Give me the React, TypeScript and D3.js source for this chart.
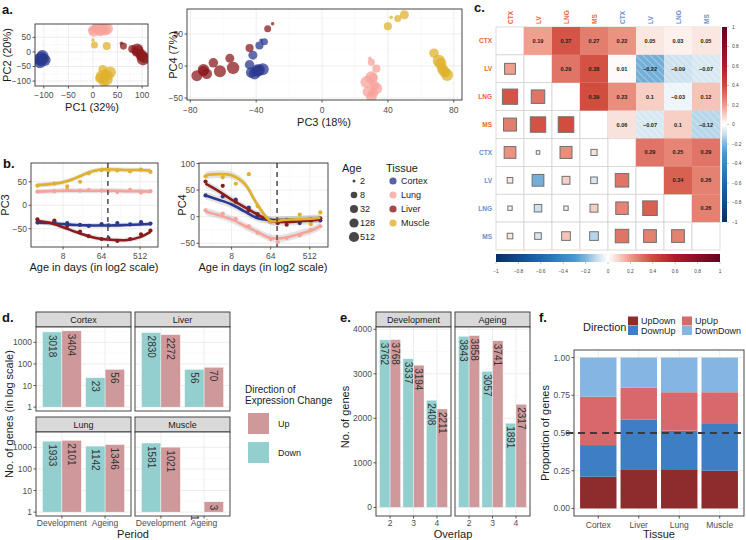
import React from "react";
import * as d3 from "d3";

const FONT = "'Liberation Sans', Arial, Helvetica, sans-serif";
const TICK_COL = "#4D4D4D";
const BORDER = "#333333";
const GRID = "#EBEBEB";
const GRID_MINOR = "#F4F4F4";

// ---------------- panels a / b data ----------------
const tissueNames = ["Cortex", "Lung", "Liver", "Muscle"];
const tissueColors = ["#2B3990", "#F7A39C", "#8C1B1D", "#DFB12D"];
const sampleAges = [2, 5, 10, 20, 32, 64, 93, 150, 300, 540, 900];

const cortexPC1 = [-108, -104, -110, -102, -106, -100, -112, -105, -98, -108, -103];
const cortexPC2 = [-22, -28, -30, -20, -33, -25, -25, -18, -28, -35, -15];
const cortexPC3 = [-37, -35, -38, -42, -44, -40, -43, -38, -41, -36, -39];
const cortexPC4 = [40, 38, 32, 17, 2, -8, -10, -6, -12, -5, -7];

const lungPC1 = [-5, 0, 5, 10, 15, 20, 25, 8, 18, 2, 28];
const lungPC2 = [78, 72, 80, 75, 70, 85, 75, 82, 77, 73, 80];
const lungPC3 = [29, 30, 33, 31, 32, 31, 30, 28, 33, 27, 30];
const lungPC4 = [12, 6, -4, -18, -30, -42, -48, -40, -35, -25, -18];

const liverPC1 = [58, 62, 80, 88, 95, 100, 92, 105, 98, 90, 102];
const liverPC2 = [30, 20, 10, 0, -5, -15, 5, -20, -10, 8, -25];
const liverPC3 = [-30, -33, -44, -56, -66, -72, -70, -76, -72, -62, -54];
const liverPC4 = [66, 58, 28, 12, 5, -8, -12, -15, -6, -8, -3];

const musclePC1 = [0, 3, 28, 20, 25, 15, 30, 22, 35, 28, 18];
const musclePC2 = [41, 24, 20, -60, -75, -90, -80, -100, -70, -95, -85];
const musclePC3 = [42, 46, 40, 50, 68, 75, 73, 74, 72, 76, 71];
const musclePC4 = [76, 74, 62, 80, 20, -10, -4, -8, 4, -14, 8];

const fitAges = [2, 4, 8, 16, 32, 64, 128, 256, 512, 900];
const cortexFit3 = [-37, -38, -40, -42, -43, -43, -43, -42, -41, -40];
const lungFit3 = [29, 30, 31, 31, 31, 31, 31, 30, 30, 29];
const liverFit3 = [-33, -38, -47, -57, -66, -72, -74, -74, -68, -57];
const muscleFit3 = [43, 45, 49, 58, 70, 76, 76, 75, 75, 74];
const cortexFit4 = [40, 32, 23, 10, -3, -6, -6, -6, -5, -5];
const lungFit4 = [10, 3, -5, -17, -29, -40, -40, -34, -27, -18];
const liverFit4 = [62, 48, 32, 18, 4, -8, -10, -9, -7, -5];
const muscleFit4 = [78, 80, 78, 62, 22, -8, -6, -5, -4, -2];

const ageLegend = [2, 8, 32, 128, 512];
const cutoffAge = 90;

// ---------------- panel c data ----------------
const corrLabels = ["CTX", "LV", "LNG", "MS", "CTX", "LV", "LNG", "MS"];
const corrMatrix = [
  [1, 0.19, 0.37, 0.27, 0.22, 0.05, 0.03, 0.05],
  [0.19, 1, 0.29, 0.38, 0.01, -0.22, -0.09, -0.07],
  [0.37, 0.29, 1, 0.39, 0.23, 0.1, -0.03, 0.12],
  [0.27, 0.38, 0.39, 1, 0.06, -0.07, 0.1, -0.12],
  [0.22, 0.01, 0.23, 0.06, 1, 0.29, 0.25, 0.29],
  [0.05, -0.22, 0.1, -0.07, 0.29, 1, 0.34, 0.26],
  [0.03, -0.09, -0.03, 0.1, 0.25, 0.34, 1, 0.26],
  [0.05, -0.07, 0.12, -0.12, 0.29, 0.26, 0.26, 1],
];
const colorbarTicks = [-1, -0.8, -0.6, -0.4, -0.2, 0, 0.2, 0.4, 0.6, 0.8, 1];

// ---------------- panel d data ----------------
const dTissues = ["Cortex", "Liver", "Lung", "Muscle"];
const dPeriods = ["Development", "Ageing"];
const dDownDev = [3018, 2830, 1933, 1581];
const dUpDev = [3404, 2272, 2101, 1021];
const dDownAge = [23, 56, 1142, 1];
const dUpAge = [56, 70, 1346, 3];

// ---------------- panel e data ----------------
const ePeriods = ["Development", "Ageing"];
const eOverlap = ["2", "3", "4"];
const eDownDev = [3762, 3337, 2408];
const eUpDev = [3768, 3194, 2211];
const eDownAge = [3843, 3057, 1891];
const eUpAge = [3858, 3741, 2317];

// ---------------- panel f data ----------------
const fTissues = ["Cortex", "Liver", "Lung", "Muscle"];
const fDirections = ["UpDown", "DownUp", "UpUp", "DownDown"];
const fUpDown = [0.21, 0.255, 0.26, 0.25];
const fDownUp = [0.21, 0.335, 0.255, 0.315];
const fUpUp = [0.32, 0.21, 0.255, 0.205];
const fDownDown = [0.26, 0.2, 0.23, 0.23];
const fColors = ["#8E2B2D", "#3E7EC5", "#D8686B", "#84B5E3"];

const UP_COL = "#CF999B";
const DOWN_COL = "#94CFCF";

const minus = (s: string) => s.replace("-", "\u2212");

interface AxOpts {
  xs: any;
  ys: any;
  xTicks: number[];
  yTicks: number[];
  xMinor?: number[];
  yMinor?: number[];
  xLabels?: string[] | null;
  yLabels?: string[] | null;
  xLabOff?: number;
  yLabOff?: number;
  fs?: number;
}

function Grid(o: AxOpts) {
  const [x0, x1] = o.xs.range();
  const [yb, yt] = o.ys.range();
  return (
    <g>
      <rect x={x0} y={yt} width={x1 - x0} height={yb - yt} fill="#fff" />
      {(o.xMinor || []).map((v, i) => (
        <line key={"xm" + i} x1={o.xs(v)} x2={o.xs(v)} y1={yt} y2={yb} stroke={GRID_MINOR} strokeWidth={0.5} />
      ))}
      {(o.yMinor || []).map((v, i) => (
        <line key={"ym" + i} x1={x0} x2={x1} y1={o.ys(v)} y2={o.ys(v)} stroke={GRID_MINOR} strokeWidth={0.5} />
      ))}
      {o.xTicks.map((v, i) => (
        <line key={"xg" + i} x1={o.xs(v)} x2={o.xs(v)} y1={yt} y2={yb} stroke={GRID} strokeWidth={0.9} />
      ))}
      {o.yTicks.map((v, i) => (
        <line key={"yg" + i} x1={x0} x2={x1} y1={o.ys(v)} y2={o.ys(v)} stroke={GRID} strokeWidth={0.9} />
      ))}
    </g>
  );
}

function Frame(o: AxOpts) {
  const [x0, x1] = o.xs.range();
  const [yb, yt] = o.ys.range();
  const fs = o.fs || 8.5;
  return (
    <g>
      <rect x={x0} y={yt} width={x1 - x0} height={yb - yt} fill="none" stroke={BORDER} strokeWidth={0.9} />
      {o.xLabels &&
        o.xTicks.map((v, i) => (
          <g key={"xt" + i}>
            <line x1={o.xs(v)} x2={o.xs(v)} y1={yb} y2={yb + 2.5} stroke={BORDER} strokeWidth={0.8} />
            <text x={o.xs(v)} y={yb + (o.xLabOff || 9)} fontSize={fs} fill={TICK_COL} textAnchor="middle" dominantBaseline="central">
              {o.xLabels![i]}
            </text>
          </g>
        ))}
      {o.yLabels &&
        o.yTicks.map((v, i) => (
          <g key={"yt" + i}>
            <line x1={x0 - 2.5} x2={x0} y1={o.ys(v)} y2={o.ys(v)} stroke={BORDER} strokeWidth={0.8} />
            <text x={x0 - (o.yLabOff || 4)} y={o.ys(v)} fontSize={fs} fill={TICK_COL} textAnchor="end" dominantBaseline="central">
              {o.yLabels![i]}
            </text>
          </g>
        ))}
    </g>
  );
}

function Title({ x, y, text, rot = false, size = 11 }: { x: number; y: number; text: string; rot?: boolean; size?: number }) {
  return (
    <text
      x={x}
      y={y}
      fontSize={size}
      fill="#1A1A1A"
      textAnchor="middle"
      dominantBaseline="central"
      transform={rot ? `rotate(-90, ${x}, ${y})` : undefined}
    >
      {text}
    </text>
  );
}

function PanelLabel({ x, y, t }: { x: number; y: number; t: string }) {
  return (
    <text x={x} y={y} fontSize={13} fontWeight="bold" fill="#111">
      {t}
    </text>
  );
}

export default function App() {
  const pcs1 = [cortexPC1, lungPC1, liverPC1, musclePC1];
  const pcs2 = [cortexPC2, lungPC2, liverPC2, musclePC2];
  const pcs3 = [cortexPC3, lungPC3, liverPC3, musclePC3];
  const pcs4 = [cortexPC4, lungPC4, liverPC4, musclePC4];
  const fits3 = [cortexFit3, lungFit3, liverFit3, muscleFit3];
  const fits4 = [cortexFit4, lungFit4, liverFit4, muscleFit4];

  const samples = tissueNames.flatMap((t, ti) =>
    sampleAges.map((age, k) => ({
      ti,
      age,
      pc1: pcs1[ti][k],
      pc2: pcs2[ti][k],
      pc3: pcs3[ti][k],
      pc4: pcs4[ti][k],
    }))
  );
  const rA = d3.scalePow().exponent(0.5).domain([0, 8.8]).range([1.8, 6.2]);
  const rAge = (a: number) => rA(Math.max(0, Math.log2(a) - 1));
  const rLeg = d3.scalePow().exponent(0.5).domain([0, 8]).range([1.5, 5.1]);

  // ---------- a ----------
  const xA1 = d3.scaleLinear().domain([-118, 112]).range([35, 148]);
  const yA1 = d3.scaleLinear().domain([-117, 96]).range([86, 24]);
  const xA2 = d3.scaleLinear().domain([-82, 85]).range([187, 462]);
  const yA2 = d3.scaleLinear().domain([-53, 89]).range([100, 9]);
  const a1: AxOpts = {
    xs: xA1, ys: yA1,
    xTicks: [-100, -50, 0, 50, 100], yTicks: [-100, -50, 0, 50],
    xMinor: [-75, -25, 25, 75], yMinor: [-75, -25, 25, 75],
    xLabels: ["-100", "-50", "0", "50", "100"].map(minus),
    yLabels: ["-100", "-50", "0", "50"].map(minus),
  };
  const a2: AxOpts = {
    xs: xA2, ys: yA2,
    xTicks: [-80, -40, 0, 40, 80], yTicks: [-50, 0, 50],
    xMinor: [-60, -20, 20, 60], yMinor: [-25, 25, 75],
    xLabels: ["-80", "-40", "0", "40", "80"].map(minus),
    yLabels: ["-50", "0", "50"].map(minus),
    xLabOff: 10,
  };

  // ---------- b ----------
  const logDom = [Math.pow(2, 0.5), Math.pow(2, 10.4)];
  const xB1 = d3.scaleLog().base(2).domain(logDom).range([31, 158]);
  const yB1 = d3.scaleLinear().domain([-89, 90]).range([247, 163]);
  const xB2 = d3.scaleLog().base(2).domain(logDom).range([199, 328]);
  const yB2 = d3.scaleLinear().domain([-57, 101]).range([247, 163]);
  const xMinB = [Math.pow(2, 1.5), Math.pow(2, 4.5), Math.pow(2, 7.5)];
  const b1: AxOpts = {
    xs: xB1, ys: yB1, xTicks: [8, 64, 512], yTicks: [-50, 0, 50],
    xMinor: xMinB, yMinor: [-75, -25, 25, 75],
    xLabels: ["8", "64", "512"], yLabels: ["-50", "0", "50"].map(minus),
  };
  const b2: AxOpts = {
    xs: xB2, ys: yB2, xTicks: [8, 64, 512], yTicks: [-50, 0, 50, 100],
    xMinor: xMinB, yMinor: [-25, 25, 75],
    xLabels: ["8", "64", "512"], yLabels: ["-50", "0", "50", "100"].map(minus),
  };
  const bPanels = [
    { o: b1, xs: xB1, ys: yB1, fits: fits3, pcs: pcs3, band: 5 },
    { o: b2, xs: xB2, ys: yB2, fits: fits4, pcs: pcs4, band: 7 },
  ];

  // ---------- c ----------
  const cx0 = 496, cy0 = 27, cw = 28, ch = (250 - 27) / 8;
  const corrColor = d3
    .scaleLinear<string>()
    .domain([-1, -0.6, -0.3, -0.2, -0.1, 0, 0.1, 0.2, 0.3, 0.4, 0.6, 1])
    .range(["#053061", "#2166AC", "#4A97C8", "#7DB5DA", "#C7DEED", "#FFFFFF", "#F7CFC5", "#EE9A88", "#DE7062", "#D04A3B", "#B2182B", "#67001F"]);
  const labColors = ["#EC6331", "#EC6331", "#EC6331", "#EC6331", "#6E8BD0", "#6E8BD0", "#6E8BD0", "#6E8BD0"];
  const cbV = d3.scaleLinear().domain([1, -1]).range([27, 222]);
  const cbH = d3.scaleLinear().domain([-1, 1]).range([496, 720]);
  const gradStops = d3.range(0, 1.0001, 0.05);

  // ---------- d ----------
  const dPanelX = [36, 135];
  const dPanelY = [327, 432];
  const dW = 95, dH = 84;

  // ---------- e ----------
  const yE = d3.scaleLinear().domain([-193, 4051]).range([516, 327]);
  const ePanelX = [376, 455];
  const eW = 75;
  const eVals = [
    [eDownDev, eUpDev],
    [eDownAge, eUpAge],
  ];

  // ---------- f ----------
  const xF = d3.scaleLinear().domain([0.4, 4.6]).range([574, 744]);
  const yF = d3.scaleLinear().domain([-0.05, 1.05]).range([516, 350]);
  const fRows = fTissues.map((t, i) => ({
    t,
    i,
    UpDown: fUpDown[i],
    DownUp: fDownUp[i],
    UpUp: fUpUp[i],
    DownDown: fDownDown[i],
  }));
  const fStack = d3.stack<any>().keys(fDirections)(fRows);
  const fOpts: AxOpts = {
    xs: xF, ys: yF, xTicks: [1, 2, 3, 4], yTicks: [0, 0.25, 0.5, 0.75, 1],
    yMinor: [0.125, 0.375, 0.625, 0.875],
    xLabels: fTissues, yLabels: ["0.00", "0.25", "0.50", "0.75", "1.00"],
  };

  const barLabel = (x: number, y: number, txt: string, key: string) => (
    <text key={key} x={x} y={y} fontSize={10} fill="#333" textAnchor="start" dominantBaseline="central" transform={`rotate(90, ${x}, ${y})`}>
      {txt}
    </text>
  );

  return (
    <svg width={746} height={540} style={{ position: "absolute", left: 0, top: 0, fontFamily: FONT }}>
      <defs>
        <pattern id="hatch" width="5" height="5" patternUnits="userSpaceOnUse" patternTransform="rotate(-45)">
          <line x1="0" y1="0" x2="0" y2="5" stroke="#fff" strokeWidth="0.9" strokeOpacity="0.8" />
        </pattern>
        <linearGradient id="cbv" x1="0" y1="0" x2="0" y2="1">
          {gradStops.map((t, i) => (
            <stop key={i} offset={t} stopColor={corrColor(1 - 2 * t)} />
          ))}
        </linearGradient>
        <linearGradient id="cbh" x1="0" y1="0" x2="1" y2="0">
          {gradStops.map((t, i) => (
            <stop key={i} offset={t} stopColor={corrColor(-1 + 2 * t)} />
          ))}
        </linearGradient>
        <clipPath id="clipB1"><rect x={31} y={163} width={127} height={84} /></clipPath>
        <clipPath id="clipB2"><rect x={199} y={163} width={129} height={84} /></clipPath>
        <clipPath id="clipA1"><rect x={35} y={24} width={113} height={62} /></clipPath>
        <clipPath id="clipA2"><rect x={187} y={9} width={275} height={91} /></clipPath>
      </defs>
      <rect width={746} height={540} fill="#fff" />

      {/* ================= a ================= */}
      <PanelLabel x={2} y={14} t="a." />
      <Grid {...a1} />
      <g clipPath="url(#clipA1)">
        {samples.map((s, i) => (
          <circle key={"a1" + i} cx={xA1(s.pc1)} cy={yA1(s.pc2)} r={rAge(s.age)} fill={tissueColors[s.ti]} fillOpacity={0.75} />
        ))}
      </g>
      <Frame {...a1} />
      <Title x={92} y={107} text="PC1 (32%)" />
      <Title x={7} y={55} text="PC2 (20%)" rot />

      <Grid {...a2} />
      <g clipPath="url(#clipA2)">
        {samples.map((s, i) => (
          <circle key={"a2" + i} cx={xA2(s.pc3)} cy={yA2(s.pc4)} r={rAge(s.age)} fill={tissueColors[s.ti]} fillOpacity={0.75} />
        ))}
      </g>
      <Frame {...a2} />
      <Title x={324} y={122} text="PC3 (18%)" />
      <Title x={173} y={55} text="PC4 (7%)" rot />

      {/* ================= b ================= */}
      <PanelLabel x={3} y={168} t="b." />
      {bPanels.map((p, pi) => {
        const area = d3
          .area<number>()
          .x((_, k) => p.xs(fitAges[k]))
          .y0((v) => p.ys(v - p.band))
          .y1((v) => p.ys(v + p.band))
          .curve(d3.curveCatmullRom);
        const line = d3
          .line<number>()
          .x((_, k) => p.xs(fitAges[k]))
          .y((v) => p.ys(v))
          .curve(d3.curveCatmullRom);
        const [yb, yt] = p.ys.range();
        return (
          <g key={"b" + pi}>
            <Grid {...p.o} />
            <g clipPath={`url(#clipB${pi + 1})`}>
              {p.fits.map((f, ti) => (
                <path key={"r" + ti} d={area(f) || ""} fill="#9E9E9E" fillOpacity={0.28} />
              ))}
              {p.pcs.map((vals, ti) =>
                vals.map((v, k) => (
                  <circle key={"p" + ti + "_" + k} cx={p.xs(sampleAges[k])} cy={p.ys(v)} r={2.1} fill={tissueColors[ti]} />
                ))
              )}
              {p.fits.map((f, ti) => (
                <path key={"l" + ti} d={line(f) || ""} fill="none" stroke={tissueColors[ti]} strokeWidth={2.6} />
              ))}
              <line x1={p.xs(cutoffAge)} x2={p.xs(cutoffAge)} y1={yt} y2={yb} stroke="#555" strokeWidth={1.6} strokeDasharray="5,4" />
            </g>
            <Frame {...p.o} />
          </g>
        );
      })}
      <Title x={94} y={267} text="Age in days (in log2 scale)" />
      <Title x={263} y={267} text="Age in days (in log2 scale)" />
      <Title x={5} y={205} text="PC3" rot />
      <Title x={182} y={205} text="PC4" rot />

      {/* Age legend */}
      <text x={342} y={168} fontSize={11} fill="#1A1A1A" dominantBaseline="central">Age</text>
      {ageLegend.map((a, i) => (
        <g key={"al" + i}>
          <circle cx={354} cy={181 + i * 14} r={rLeg(Math.log2(a) - 1)} fill="#333" fillOpacity={0.9} />
          <text x={360} y={181 + i * 14} fontSize={9} fill="#1A1A1A" dominantBaseline="central">{a}</text>
        </g>
      ))}
      {/* Tissue legend */}
      <text x={386} y={168} fontSize={11} fill="#1A1A1A" dominantBaseline="central">Tissue</text>
      {tissueNames.map((t, i) => (
        <g key={"tl" + i}>
          <circle cx={393} cy={181 + i * 14} r={3.6} fill={tissueColors[i]} fillOpacity={0.8} />
          <text x={401} y={181 + i * 14} fontSize={9} fill="#1A1A1A" dominantBaseline="central">{t}</text>
        </g>
      ))}

      {/* ================= c ================= */}
      <PanelLabel x={474} y={12} t="c." />
      {corrMatrix.map((row, r) =>
        row.map((_, c) => (
          <rect key={"cg" + r + "_" + c} x={cx0 + c * cw} y={cy0 + r * ch} width={cw} height={ch} fill="#fff" stroke="#CFCFCF" strokeWidth={0.7} />
        ))
      )}
      {corrMatrix.map((row, r) =>
        row.map((v, c) => {
          if (c > r) {
            const x = cx0 + c * cw, y = cy0 + r * ch;
            return (
              <g key={"cu" + r + "_" + c}>
                <rect x={x} y={y} width={cw} height={ch} fill={corrColor(v)} />
                {v < 0 && <rect x={x} y={y} width={cw} height={ch} fill="url(#hatch)" />}
                <text x={x + cw / 2} y={y + ch / 2} fontSize={5.6} fontWeight="bold" fill="#222" textAnchor="middle" dominantBaseline="central">
                  {minus(String(v))}
                </text>
              </g>
            );
          }
          if (c < r) {
            const s = Math.max(3.5, 25 * Math.sqrt(Math.abs(v)));
            const xc = cx0 + c * cw + cw / 2, yc = cy0 + r * ch + ch / 2;
            return (
              <rect key={"cl" + r + "_" + c} x={xc - s / 2} y={yc - s / 2} width={s} height={s} fill={corrColor(v)} stroke="#707070" strokeWidth={1} />
            );
          }
          return null;
        })
      )}
      {corrLabels.map((l, i) => (
        <g key={"clab" + i}>
          <text
            x={cx0 + i * cw + cw / 2}
            y={24}
            fontSize={6.5}
            fontWeight="bold"
            fill={labColors[i]}
            dominantBaseline="central"
            transform={`rotate(-90, ${cx0 + i * cw + cw / 2}, 24)`}
          >
            {l}
          </text>
          <text x={492} y={cy0 + i * ch + ch / 2} fontSize={6.5} fontWeight="bold" fill={labColors[i]} textAnchor="end" dominantBaseline="central">
            {l}
          </text>
        </g>
      ))}
      <rect x={722} y={27} width={5} height={195} fill="url(#cbv)" />
      {colorbarTicks.map((t, i) => (
        <g key={"cbv" + i}>
          <line x1={727} x2={729} y1={cbV(t)} y2={cbV(t)} stroke="#777" strokeWidth={0.4} />
          <text x={732} y={cbV(t)} fontSize={4.8} fill="#444" dominantBaseline="central">
            {minus(String(t))}
          </text>
        </g>
      ))}
      <rect x={496} y={254} width={224} height={8} fill="url(#cbh)" />
      {colorbarTicks.map((t, i) => (
        <g key={"cbh" + i}>
          <line x1={cbH(t)} x2={cbH(t)} y1={262} y2={264} stroke="#777" strokeWidth={0.4} />
          <text x={cbH(t)} y={271.5} fontSize={4.8} fill="#444" textAnchor="middle" dominantBaseline="central">
            {minus(String(t))}
          </text>
        </g>
      ))}

      {/* ================= d ================= */}
      <PanelLabel x={2} y={322} t="d." />
      {dTissues.map((t, i) => {
        const col = i % 2, row = Math.floor(i / 2);
        const px = dPanelX[col], py = dPanelY[row];
        const xs = d3.scaleLinear().domain([0.4, 2.6]).range([px, px + dW]);
        const ys = d3.scaleLog().domain([Math.pow(10, -0.18), Math.pow(10, 3.71)]).range([py + dH, py]);
        const o: AxOpts = {
          xs, ys, xTicks: [1, 2], yTicks: [1, 10, 100, 1000],
          yMinor: [Math.pow(10, 0.5), Math.pow(10, 1.5), Math.pow(10, 2.5), Math.pow(10, 3.5)],
          xLabels: row === 1 ? dPeriods : null,
          yLabels: col === 0 ? ["1", "10", "100", "1000"] : null,
          xLabOff: 7,
        };
        const bars = [
          { p: 1, off: -0.45, v: dDownDev[i], c: DOWN_COL },
          { p: 1, off: 0, v: dUpDev[i], c: UP_COL },
          { p: 2, off: -0.45, v: dDownAge[i], c: DOWN_COL },
          { p: 2, off: 0, v: dUpAge[i], c: UP_COL },
        ];
        return (
          <g key={"d" + i}>
            <rect x={px} y={py - 15} width={dW} height={15} fill="#D9D9D9" stroke={BORDER} strokeWidth={0.9} />
            <text x={px + dW / 2} y={py - 7.5} fontSize={9} fill="#1A1A1A" textAnchor="middle" dominantBaseline="central">{t}</text>
            <Grid {...o} />
            {bars.map((b, k) => {
              const x0 = xs(b.p + b.off), x1 = xs(b.p + b.off + 0.45);
              const yTop = ys(b.v), yBase = ys(1);
              return (
                <g key={"db" + k}>
                  <rect x={x0} y={yTop} width={x1 - x0} height={Math.max(0, yBase - yTop)} fill={b.c} stroke="#fff" strokeWidth={0.4} />
                  {barLabel((x0 + x1) / 2, yTop + 3, String(b.v), "dl" + k)}
                </g>
              );
            })}
            <Frame {...o} />
          </g>
        );
      })}
      <Title x={133} y={534} text="Period" />
      <Title x={9} y={414} text="No. of genes (in log scale)" rot />
      <text x={245} y={389} fontSize={10} fill="#1A1A1A" dominantBaseline="central">Direction of</text>
      <text x={245} y={400.5} fontSize={10} fill="#1A1A1A" dominantBaseline="central">Expression Change</text>
      <rect x={248} y={413} width={21} height={21} fill={UP_COL} />
      <text x={278} y={424} fontSize={9} fill="#1A1A1A" dominantBaseline="central">Up</text>
      <rect x={248} y={442} width={21} height={21} fill={DOWN_COL} />
      <text x={278} y={453} fontSize={9} fill="#1A1A1A" dominantBaseline="central">Down</text>

      {/* ================= e ================= */}
      <PanelLabel x={340} y={322} t="e." />
      {ePeriods.map((pname, pi) => {
        const px = ePanelX[pi];
        const xs = d3.scaleLinear().domain([0.4, 3.6]).range([px, px + eW]);
        const o: AxOpts = {
          xs, ys: yE, xTicks: [1, 2, 3], yTicks: [0, 1000, 2000, 3000, 4000],
          yMinor: [500, 1500, 2500, 3500],
          xLabels: eOverlap,
          yLabels: pi === 0 ? ["0", "1000", "2000", "3000", "4000"] : null,
          xLabOff: 7,
        };
        const [down, up] = eVals[pi];
        return (
          <g key={"e" + pi}>
            <rect x={px} y={312} width={eW} height={15} fill="#D9D9D9" stroke={BORDER} strokeWidth={0.9} />
            <text x={px + eW / 2} y={319.5} fontSize={9} fill="#1A1A1A" textAnchor="middle" dominantBaseline="central">{pname}</text>
            <Grid {...o} />
            {eOverlap.map((_, k) => {
              const items = [
                { off: -0.45, v: down[k], c: DOWN_COL },
                { off: 0, v: up[k], c: UP_COL },
              ];
              return items.map((b, j) => {
                const x0 = xs(k + 1 + b.off), x1 = xs(k + 1 + b.off + 0.45);
                const yTop = yE(b.v), yBase = yE(0);
                return (
                  <g key={"eb" + k + "_" + j}>
                    <rect x={x0} y={yTop} width={x1 - x0} height={yBase - yTop} fill={b.c} stroke="#fff" strokeWidth={0.4} />
                    {barLabel((x0 + x1) / 2, yTop + 3, String(b.v), "el" + k + j)}
                  </g>
                );
              });
            })}
            <Frame {...o} />
          </g>
        );
      })}
      <Title x={453} y={534} text="Overlap" />
      <Title x={345} y={417} text="No. of genes" rot />

      {/* ================= f ================= */}
      <PanelLabel x={539} y={322} t="f." />
      <Grid {...fOpts} />
      {fStack.map((layer, li) =>
        layer.map((seg, k) => (
          <rect
            key={"fs" + li + "_" + k}
            x={xF(k + 1 - 0.45)}
            y={yF(seg[1])}
            width={xF(k + 1 + 0.45) - xF(k + 1 - 0.45)}
            height={yF(seg[0]) - yF(seg[1])}
            fill={fColors[li]}
          />
        ))
      )}
      <line x1={566} x2={746} y1={yF(0.5)} y2={yF(0.5)} stroke="#3A3A3A" strokeWidth={2} strokeDasharray="7,5" />
      <Frame {...fOpts} />
      <Title x={659} y={534} text="Tissue" />
      <Title x={545} y={433} text="Proportion of genes" rot />
      <text x={583} y={327} fontSize={11} fill="#1A1A1A" dominantBaseline="central">Direction</text>
      {fDirections.map((d, i) => {
        const col = i < 2 ? 0 : 1;
        const row = i % 2;
        const kx = col === 0 ? 628 : 682;
        const ky = row === 0 ? 316.5 : 326;
        return (
          <g key={"fl" + i}>
            <rect x={kx} y={ky} width={10} height={9} fill={fColors[i]} />
            <text x={kx + 13} y={ky + 4.5} fontSize={9} fill="#1A1A1A" dominantBaseline="central">
              {d}
            </text>
          </g>
        );
      })}
    </svg>
  );
}
